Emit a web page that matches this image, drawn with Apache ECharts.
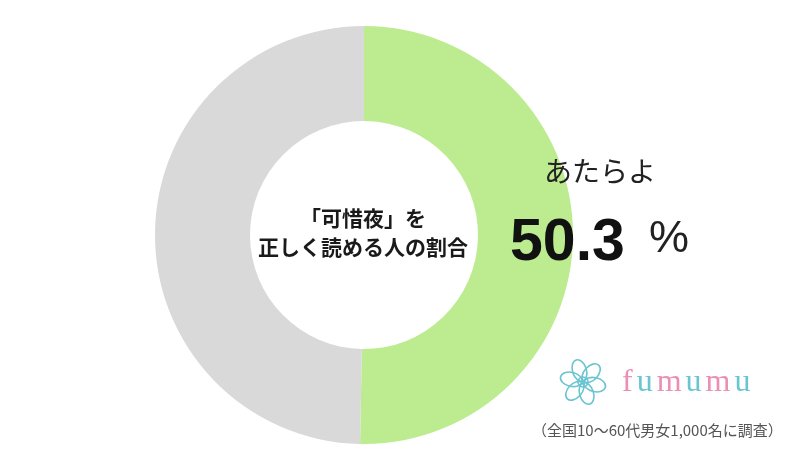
<!DOCTYPE html>
<html>
<head>
<meta charset="utf-8">
<script src="https://cdn.jsdelivr.net/npm/echarts@6/dist/echarts.min.js"></script>
<style>
html,body{margin:0;padding:0;background:#fff;}
#main{width:800px;height:468px;}
</style>
</head>
<body>
<div id="main"></div>
<script>
const categories = ['あたらよ', 'その他'];
const values = [50.3, 49.7];
const centerLines = ['「可惜夜」を', '正しく読める人の割合'];
const footnote = '（全国10〜60代男女1,000名に調査）';

const chart = echarts.init(document.getElementById('main'), null, {renderer: 'canvas'});
const sliceColors = ['#bcec8f', '#d9d9d9'];
const jp = '"Noto Sans CJK JP", sans-serif';

const petals = [];
for (let i = 0; i < 6; i++) {
  const a = i * Math.PI / 3 + 0.3;
  petals.push({
    type: 'ellipse',
    shape: {cx: 0, cy: -12, rx: 7, ry: 11},
    rotation: a,
    originX: 0, originY: 0,
    style: {fill: 'none', stroke: '#6ac5d0', lineWidth: 1.6}
  });
}
petals.push({type: 'circle', shape: {cx: 0, cy: 0, r: 5}, style: {fill: 'none', stroke: '#6ac5d0', lineWidth: 1.6}});

chart.setOption({
  backgroundColor: '#ffffff',
  animation: false,
  series: [{
    type: 'pie',
    center: [364, 235],
    radius: [114, 209],
    startAngle: 90,
    clockwise: true,
    silent: true,
    z: 1,
    label: {show: false},
    labelLine: {show: false},
    emphasis: {disabled: true},
    data: categories.map((c, i) => ({name: c, value: values[i], itemStyle: {color: sliceColors[i]}}))
  }],
  graphic: {
    elements: [
      {
        type: 'text', z: 100,
        style: {
          x: 363, y: 233, text: centerLines.join('\n'),
          align: 'center', verticalAlign: 'middle',
          font: 'bold 21px ' + jp, lineHeight: 29, fill: '#1a1a1a'
        }
      },
      {
        type: 'text', z: 100,
        style: {x: 544, y: 171, text: categories[0], verticalAlign: 'middle',
          font: '28px ' + jp, fill: '#222'}
      },
      {
        type: 'text', z: 100,
        style: {x: 510, y: 244, text: values[0].toFixed(1), verticalAlign: 'middle',
          font: 'bold 59px "Liberation Sans", Arial, sans-serif', fill: '#111'}
      },
      {
        type: 'text', z: 100,
        style: {x: 649, y: 240, text: '%', verticalAlign: 'middle',
          font: '45px "Liberation Sans", Arial, sans-serif', fill: '#222'}
      },
      {
        type: 'group', x: 583, y: 382, z: 100,
        children: petals
      },
      {
        type: 'text', z: 100,
        style: {
          x: 620, y: 383, verticalAlign: 'middle',
          text: '{a|f}{b|u}{a|m}{b|u}{a|m}{b|u}',
          rich: {
            a: {font: '32px "Liberation Serif", "DejaVu Serif", serif', fill: '#eb8fb3', padding: [0, 2, 0, 2]},
            b: {font: '32px "Liberation Serif", "DejaVu Serif", serif', fill: '#6ac5d0', padding: [0, 2, 0, 2]}
          }
        }
      },
      {
        type: 'text', z: 100,
        style: {x: 532, y: 430, text: footnote, verticalAlign: 'middle',
          font: '15px ' + jp, fill: '#555'}
      }
    ]
  }
});
</script>
</body>
</html>
